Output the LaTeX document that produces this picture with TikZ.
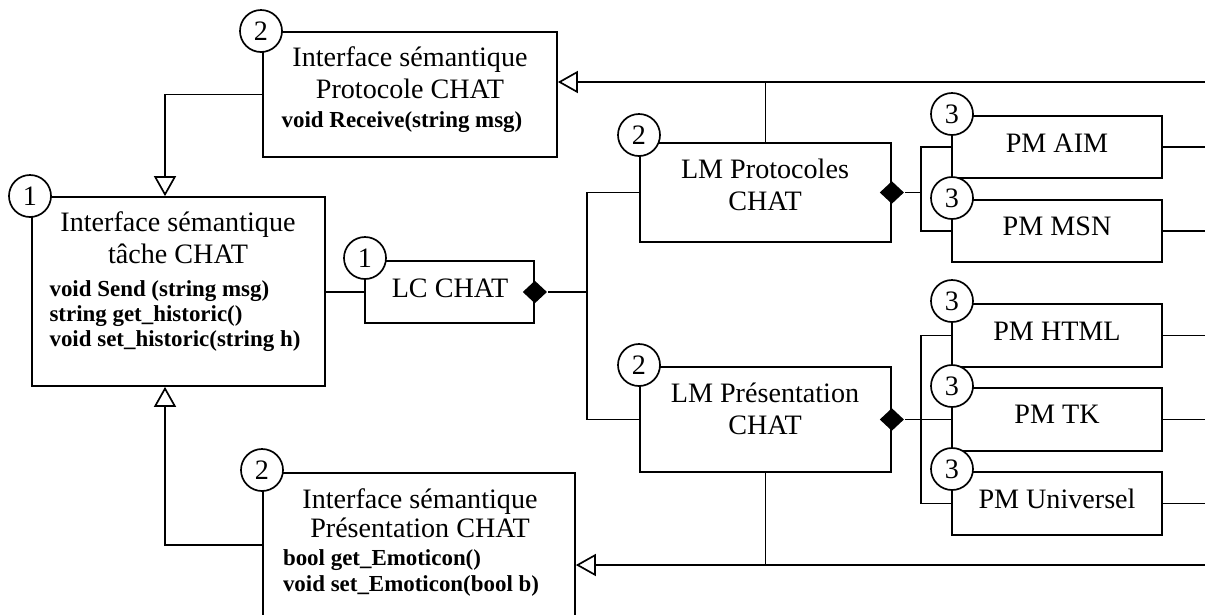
\documentclass[tikz,border=0pt]{standalone}
\usepackage{fontspec}
\setmainfont{Liberation Serif}
\usetikzlibrary{shapes.geometric, arrows.meta, positioning, fit}

\begin{document}
\begin{tikzpicture}[
    x=0.025cm, y=-0.025cm,
    line width=1.2pt,
    every node/.style={font=\fontsize{20}{23}\selectfont},
    box/.style={rectangle, draw, inner sep=0pt},
    num/.style={circle, draw, fill=white, minimum size=1.05cm, inner sep=0pt},
    txt/.style={align=center, inner sep=0pt},
    ops/.style={align=left, inner sep=0pt, font=\fontsize{16.3}{17.8}\selectfont\bfseries},
    dia/.style={diamond, fill=black, minimum width=0.62cm, minimum height=0.58cm, inner sep=0pt},
    gen/.style={-{Triangle[open, length=0.5cm, width=0.55cm]}}
]
    \useasboundingbox (0,0) rectangle (1205,614);

    % boxes
    \node[box, fit={(263,32) (557,157)}]   (isp)  {};
    \node[box, fit={(32,197) (325,386)}]   (istc) {};
    \node[box, fit={(365,261) (534,323)}]  (lc)   {};
    \node[box, fit={(640,143) (891,242)}]  (lmp)  {};
    \node[box, fit={(640,367) (891,472)}]  (lmpr) {};
    \node[box, fit={(263,473) (575,617)}]  (ispr) {};
    \node[box, fit={(952,116) (1162,178)}] (aim)  {};
    \node[box, fit={(952,200) (1162,262)}] (msn)  {};
    \node[box, fit={(952,304) (1162,367)}] (html) {};
    \node[box, fit={(952,388) (1162,451)}] (tk)   {};
    \node[box, fit={(952,472) (1162,535)}] (univ) {};

    % labels
    \node[txt] (isp-t) at (410,73) {Interface sémantique\\Protocole CHAT};
    \node[ops, anchor=base] (isp-o) at (402,127) {void Receive(string msg)};
    \node[txt] (istc-t) at (178,238) {Interface sémantique\\tâche CHAT};
    \node[ops] (istc-o) at (175,316) {void Send (string msg)\\string get\_historic()\\void set\_historic(string h)};
    \node[txt, anchor=base] (lc-t) at (450,297) {LC CHAT};
    \node[txt] (lmp-t) at (765,185) {LM Protocoles\\CHAT};
    \node[txt] (lmpr-t) at (765,409) {LM Présentation\\CHAT};
    \node[txt, font=\fontsize{20}{20.6}\selectfont] (ispr-t) at (420,513) {Interface sémantique\\Présentation CHAT};
    \node[ops, font=\fontsize{16.3}{19}\selectfont\bfseries] (ispr-o) at (411,573) {bool get\_Emoticon()\\void set\_Emoticon(bool b)};
    \node[txt, anchor=base] (aim-t)  at (1057,152) {PM AIM};
    \node[txt, anchor=base] (msn-t)  at (1057,235) {PM MSN};
    \node[txt, anchor=base] (html-t) at (1057,340) {PM HTML};
    \node[txt, anchor=base] (tk-t)   at (1057,423) {PM TK};
    \node[txt, anchor=base] (univ-t) at (1057,508) {PM Universel};

    % generalisation
    \coordinate (pr) at (1205,82);
    \coordinate (pb) at (1205,565);
    \draw[gen] (isp.west) -| (istc.north -| 165,0);
    \draw[gen] (ispr.west) -| (istc.south -| 165,0);
    \draw[gen] (pr) -- (isp.east |- pr);
    \draw (lmp.north) -- (lmp.north |- pr);
    \draw[gen] (pb) -- (ispr.east |- pb);
    \draw (lmpr.south) -- (lmpr.south |- pb);

    % composition
    \node[dia] (lc-d)   at (lc.east)   {};
    \node[dia] (lmp-d)  at (lmp.east)  {};
    \node[dia] (lmpr-d) at (lmpr.east) {};
    \coordinate (b1) at (587,292);
    \draw (istc.east |- lc.west) -- (lc.west);
    \draw (lc-d.east) -- (b1);
    \draw (lmp.west) -| (b1) |- (lmpr.west);
    \draw (lmp-d.east) -- (lmp-d.east -| 921,0);
    \draw (aim.west) -| (msn.west -| 921,0) -- (msn.west);
    \draw (lmpr-d.east) -- (tk.west);
    \draw (html.west) -| (univ.west -| 921,0) -- (univ.west);
    \foreach \b in {aim,msn,html,tk,univ}
        \draw (\b.east) -- (\b.east -| 1205,0);

    % numbers
    \node[num] (isp-n)  at (261,31)  {2};
    \node[num] (istc-n) at (30,196)  {1};
    \node[num] (lc-n)   at (365,258) {1};
    \node[num] (lmp-n)  at (639,135) {2};
    \node[num] (lmpr-n) at (639,365) {2};
    \node[num] (ispr-n) at (262,470) {2};
    \node[num] (aim-n)  at (952,114) {3};
    \node[num] (msn-n)  at (952,198) {3};
    \node[num] (html-n) at (952,301) {3};
    \node[num] (tk-n)   at (952,386) {3};
    \node[num] (univ-n) at (952,469) {3};
\end{tikzpicture}
\end{document}
